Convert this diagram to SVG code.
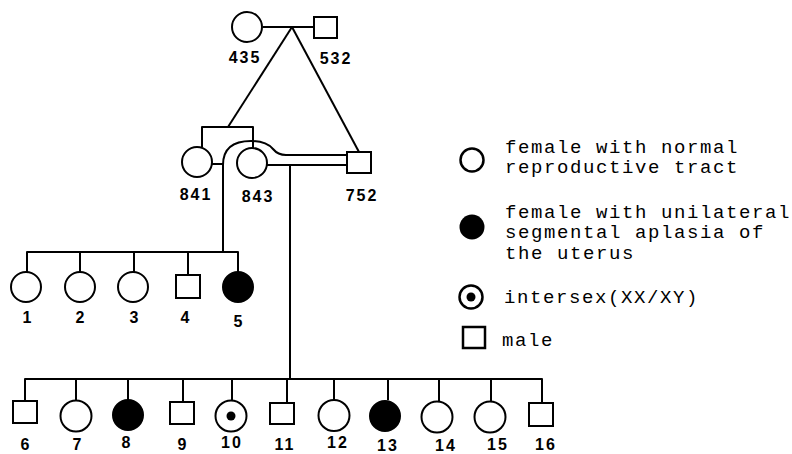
<svg xmlns="http://www.w3.org/2000/svg" width="792" height="454" viewBox="0 0 792 454">
<style>
.s{fill:#fff;stroke:#000;stroke-width:2}
.f{fill:#000;stroke:#000;stroke-width:2}
.l{fill:none;stroke:#000;stroke-width:2;stroke-linejoin:round}
.n{font-family:"Liberation Sans",Arial,sans-serif;font-weight:bold;font-size:16px;letter-spacing:2px;text-anchor:middle;fill:#000}
.t{font-family:"Liberation Mono","Courier New",monospace;font-size:19px;letter-spacing:1.6px;fill:#000}
</style>
<rect width="792" height="454" fill="#fff"/>
<g id="connectors" class="l">
<path d="M263,27 H313"/>
<path d="M292,27 L228,127"/>
<path d="M292,27 L359,152"/>
<path d="M202,147 V127 H253 V148"/>
<path d="M212,164 H223 V252"/>
<path d="M223,165 Q223,141 251,141 Q266,141 273,149 Q278,155 286,155 H347"/>
<path d="M267,165 H347"/>
<path d="M290,165 V379"/>
<path d="M27,272 V252 H238 V272"/>
<path d="M80,272 V252"/>
<path d="M134,272 V252"/>
<path d="M188,275 V252"/>
<path d="M25,401 V379 H542 V403"/>
<path d="M76,401 V379"/>
<path d="M128,400 V379"/>
<path d="M183,402 V379"/>
<path d="M232,401 V379"/>
<path d="M287,403 V379"/>
<path d="M334,400 V379"/>
<path d="M388,400 V379"/>
<path d="M439,402 V379"/>
<path d="M491,402 V379"/>
</g>
<g id="n435"><circle class="s" cx="247" cy="27" r="15"/><text class="n" x="245" y="63">435</text></g>
<g id="n532"><rect class="s" x="314" y="17" width="23" height="21"/><text class="n" x="336" y="64">532</text></g>
<g id="n841"><circle class="s" cx="197" cy="162" r="15"/><text class="n" x="196" y="200">841</text></g>
<g id="n843"><circle class="s" cx="252" cy="163" r="15"/><text class="n" x="258" y="202">843</text></g>
<g id="n752"><rect class="s" x="347" y="152" width="24" height="21"/><text class="n" x="362" y="201">752</text></g>
<g id="c1"><circle class="s" cx="26" cy="287" r="15"/><text class="n" x="28" y="323">1</text></g>
<g id="c2"><circle class="s" cx="80" cy="287" r="15"/><text class="n" x="81" y="323">2</text></g>
<g id="c3"><circle class="s" cx="133" cy="287" r="15"/><text class="n" x="135" y="323">3</text></g>
<g id="c4"><rect class="s" x="176" y="275" width="24" height="23"/><text class="n" x="186" y="323">4</text></g>
<g id="c5"><circle class="f" cx="238" cy="287" r="15"/><text class="n" x="239" y="327">5</text></g>
<g id="c6"><rect class="s" x="13" y="401" width="24" height="22"/><text class="n" x="26" y="450">6</text></g>
<g id="c7"><circle class="s" cx="76" cy="416" r="15.5"/><text class="n" x="78" y="450">7</text></g>
<g id="c8"><circle class="f" cx="128" cy="415" r="15"/><text class="n" x="127" y="448">8</text></g>
<g id="c9"><rect class="s" x="170" y="402" width="24" height="22"/><text class="n" x="183" y="450">9</text></g>
<g id="c10"><circle class="s" cx="231" cy="416" r="15.5"/><circle cx="231" cy="416" r="4.5" fill="#000"/><text class="n" x="232" y="448">10</text></g>
<g id="c11"><rect class="s" x="270" y="403" width="24" height="21"/><text class="n" x="285" y="450">11</text></g>
<g id="c12"><circle class="s" cx="334" cy="415.5" r="15.5"/><text class="n" x="338" y="448">12</text></g>
<g id="c13"><circle class="f" cx="385" cy="416" r="15"/><text class="n" x="388" y="451">13</text></g>
<g id="c14"><circle class="s" cx="437" cy="417" r="15.5"/><text class="n" x="446" y="451">14</text></g>
<g id="c15"><circle class="s" cx="490" cy="417" r="15.5"/><text class="n" x="498" y="450">15</text></g>
<g id="c16"><rect class="s" x="529" y="403" width="24" height="23"/><text class="n" x="546" y="450">16</text></g>
<g id="legend">
<circle cx="472" cy="160" r="11.5" fill="#fff" stroke="#000" stroke-width="2.5"/>
<text class="t" x="505" y="153">female with normal</text>
<text class="t" x="505" y="173">reproductive tract</text>
<circle cx="472" cy="227" r="12.5" fill="#000"/>
<text class="t" x="505" y="218">female with unilateral</text>
<text class="t" x="505" y="238">segmental aplasia of</text>
<text class="t" x="505" y="259">the uterus</text>
<circle cx="471" cy="297" r="11.5" fill="#fff" stroke="#000" stroke-width="2.5"/>
<circle cx="471" cy="297" r="4.5" fill="#000"/>
<text class="t" x="504" y="303">intersex(XX/XY)</text>
<rect x="463" y="327" width="22" height="21" fill="#fff" stroke="#000" stroke-width="2.5"/>
<text class="t" x="502" y="346">male</text>
</g>
</svg>
